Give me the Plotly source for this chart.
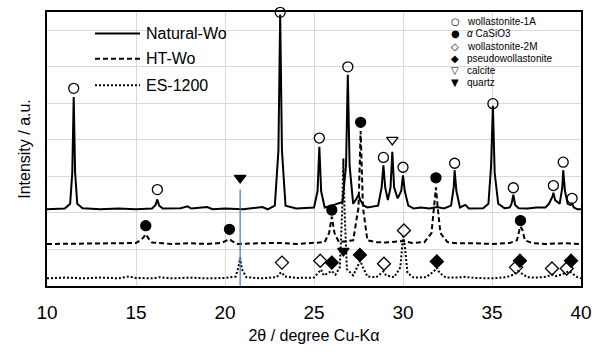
import plotly.graph_objects as go

# ---------------- data ----------------
tt_natural = [10.0, 10.5, 11.0, 11.3, 11.42, 11.5, 11.58, 11.7, 12.0, 13.0, 14.0, 15.0, 15.9, 16.1, 16.2, 16.3, 16.5,
              17.5, 17.9, 18.1, 19.0, 19.3, 20.0, 21.0, 22.1, 22.4, 22.8, 23.0, 23.1, 23.2, 23.4, 24.0, 25.0, 25.2,
              25.3, 25.4, 25.6, 26.0, 26.6, 26.8, 26.9, 27.0, 27.2, 27.4, 27.5, 27.6, 27.8, 28.0, 28.6, 28.8, 28.9,
              29.0, 29.15, 29.3, 29.4, 29.5, 29.7, 29.9, 30.0, 30.1, 30.3, 30.6, 31.0, 31.5, 31.9, 32.3, 32.7, 32.85,
              32.9, 33.0, 33.2, 33.5, 33.7, 34.5, 34.8, 34.95, 35.05, 35.15, 35.35, 35.7, 36.0, 36.1, 36.2, 36.3,
              36.5, 37.0, 37.5, 38.0, 38.2, 38.4, 38.45, 38.55, 38.8, 38.95, 39.0, 39.1, 39.25, 39.4, 39.5, 39.6,
              39.8, 40.0]
int_natural = [0.0, 0.0, 0.02, 0.15, 1.0, 3.07, 1.0, 0.15, 0.03, 0.0, 0.02, 0.0, 0.02, 0.12, 0.27, 0.1, 0.02,
               0.03, 0.08, 0.02, 0.06, 0.0, 0.02, 0.0, 0.06, 0.0, 0.1, 1.6, 5.33, 1.6, 0.1, 0.02, 0.05, 0.5,
               1.71, 0.5, 0.05, 0.1, 0.2, 1.2, 3.68, 1.2, 0.15, 0.3, 0.4, 0.25, 0.1, 0.05, 0.1, 0.6, 1.2,
               0.6, 0.25, 0.6, 1.57, 0.6, 0.3, 0.5, 0.93, 0.5, 0.1, 0.02, 0.05, 0.02, 0.06, 0.02, 0.1, 0.6,
               1.07, 0.5, 0.05, 0.12, 0.02, 0.03, 0.15, 1.2, 2.83, 1.0, 0.15, 0.03, 0.05, 0.15, 0.4, 0.12,
               0.03, 0.02, 0.05, 0.05, 0.15, 0.35, 0.45, 0.25, 0.15, 0.6, 1.07, 0.5, 0.15, 0.12, 0.15, 0.05,
               0.0, 0.0]

tt_ht = [10.0, 12.0, 14.0, 15.0, 15.3, 15.45, 15.55, 15.7, 15.9, 16.5, 17.0, 18.0, 19.0, 19.8, 20.1, 20.25, 20.4,
         20.7, 22.0, 23.0, 24.0, 25.0, 25.6, 25.85, 26.0, 26.15, 26.4, 27.2, 27.5, 27.62, 27.75, 28.0, 28.5, 29.0,
         29.5, 30.0, 30.5, 31.2, 31.6, 31.75, 31.85, 31.95, 32.1, 32.5, 33.0, 34.0, 35.0, 36.0, 36.4, 36.55, 36.6,
         36.7, 36.85, 37.3, 38.0, 39.0, 40.0]
int_ht = [0.0, 0.0, 0.02, 0.03, 0.12, 0.2, 0.27, 0.15, 0.04, 0.02, 0.0, 0.02, 0.0, 0.03, 0.1, 0.13, 0.08,
          0.0, 0.02, 0.03, 0.0, 0.03, 0.05, 0.3, 0.75, 0.3, 0.05, 0.1, 1.0, 3.09, 1.0, 0.1, 0.05, 0.04,
          0.06, 0.08, 0.03, 0.05, 0.3, 1.0, 1.55, 1.0, 0.3, 0.05, 0.02, 0.02, 0.0, 0.03, 0.1, 0.4, 0.48,
          0.4, 0.1, 0.02, 0.0, 0.02, 0.0]

tt_es = [10.0, 11.0, 12.0, 13.0, 14.0, 14.6, 15.0, 16.0, 16.3, 17.0, 18.0, 19.0, 20.0, 20.6, 20.75, 20.85, 20.95,
         21.2, 22.0, 22.9, 23.1, 23.2, 23.35, 24.0, 25.0, 25.25, 25.4, 25.55, 25.85, 26.0, 26.2, 26.45, 26.58,
         26.65, 26.72, 26.85, 27.2, 27.45, 27.6, 27.75, 28.0, 28.5, 28.8, 28.9, 29.05, 29.5, 29.85, 30.0, 30.1,
         30.25, 30.6, 31.3, 31.75, 31.9, 32.05, 32.4, 33.0, 33.5, 34.0, 35.0, 35.8, 36.2, 36.45, 36.7, 37.0, 37.5,
         38.0, 38.4, 38.6, 38.9, 39.2, 39.35, 39.6, 39.8, 40.0]
int_es = [0.0, 0.02, 0.0, 0.02, 0.0, 0.05, 0.01, 0.0, 0.03, 0.0, 0.02, 0.0, 0.01, 0.05, 0.3, 0.56, 0.25,
          0.03, 0.0, 0.03, 0.14, 0.16, 0.05, 0.01, 0.02, 0.15, 0.24, 0.08, 0.15, 0.2, 0.1, 0.3, 1.8,
          3.28, 1.8, 0.25, 0.08, 0.35, 0.48, 0.3, 0.05, 0.03, 0.15, 0.19, 0.08, 0.03, 0.3, 1.15, 0.9,
          0.15, 0.02, 0.03, 0.2, 0.29, 0.15, 0.02, 0.02, 0.04, 0.01, 0.0, 0.03, 0.1, 0.2, 0.12, 0.03, 0.02,
          0.04, 0.1, 0.06, 0.1, 0.18, 0.2, 0.1, 0.03, 0.0]

# vertical offsets of the stacked patterns (axis units)
offset_natural = 2.1
offset_ht = 1.15
offset_es = 0.21

# phase markers (2theta, height in axis units)
wo1a_x = [11.5, 16.2, 23.1, 25.3, 26.9, 28.9, 30.0, 32.9, 35.05, 36.2, 38.45, 39.0, 39.5]
wo1a_y = [5.41, 2.64, 7.49, 4.05, 6.0, 3.52, 3.25, 3.36, 4.99, 2.69, 2.75, 3.39, 2.4]
acasio3_x = [15.55, 20.25, 26.0, 27.62, 31.85, 36.6]
acasio3_y = [1.65, 1.55, 2.08, 4.48, 2.96, 1.79]
wo2m_x = [23.2, 25.35, 28.93, 30.05, 36.35, 38.37, 39.2]
wo2m_y = [0.64, 0.69, 0.61, 1.52, 0.51, 0.48, 0.48]
pseudo_x = [26.0, 27.58, 31.9, 36.57, 39.44]
pseudo_y = [0.64, 0.85, 0.67, 0.69, 0.69]
calcite_x = [29.4]
calcite_y = [4.0]
quartz_x = [20.85, 26.65]
quartz_y = [2.96, 0.96]
quartz_line_x = [20.85, 20.85]
quartz_line_y = [0.0, 2.64]

series_names = ["Natural-Wo", "HT-Wo", "ES-1200"]
series_dash = ["solid", "5px,3px", "2px,2px"]
phase_names = ["wollastonite-1A", "αCaSiO3", "wollastonite-2M", "pseudowollastonite", "calcite", "quartz"]
phase_labels = ["wollastonite-1A", "<i>α</i> CaSiO3", "wollastonite-2M", "pseudowollastonite", "calcite", "quartz"]
phase_glyphs = ["○", "●", "◇", "◆", "▽", "▼"]
x_ticks = [10, 15, 20, 25, 30, 35, 40]

# ---------------- figure ----------------
FONT = "Liberation Sans, Arial, sans-serif"

fig = go.Figure()
series = [(tt_natural, int_natural, offset_natural), (tt_ht, int_ht, offset_ht), (tt_es, int_es, offset_es)]
for (sx, sy, off), nm, dsh in zip(series, series_names, series_dash):
    fig.add_trace(go.Scatter(x=sx, y=[v + off for v in sy], mode="lines", name=nm, showlegend=False,
                             line=dict(color="black", width=2, dash=dsh)))

fig.add_trace(go.Scatter(x=quartz_line_x, y=quartz_line_y, mode="lines", showlegend=False,
                         line=dict(color="#4472C4", width=1.2)))

marker_specs = [
    (wo1a_x, wo1a_y, "circle-open"),
    (acasio3_x, acasio3_y, "circle"),
    (wo2m_x, wo2m_y, "diamond-open"),
    (pseudo_x, pseudo_y, "diamond"),
    (calcite_x, calcite_y, "triangle-down-open"),
    (quartz_x, quartz_y, "triangle-down"),
]
for (mx, my, sym), nm in zip(marker_specs, phase_names):
    fig.add_trace(go.Scatter(x=mx, y=my, mode="markers", name=nm, showlegend=False, cliponaxis=False,
                             marker=dict(symbol=sym, size=10, color="black",
                                         line=dict(color="black", width=1.3))))

# legends drawn as text + sample lines (pixel layout converted to paper coords)
L, T, W, H = 47, 10, 534, 281
FW, FH = 606, 352
def px_x(p):
    return (p - L) / W
def px_y(p):
    return (T + H - p) / H

# left legend: series line styles
fig.add_shape(type="rect", xref="paper", yref="paper", x0=px_x(76), x1=px_x(244), y0=px_y(99), y1=px_y(13),
              fillcolor="white", line=dict(width=0), layer="between")
for nm, dsh, r in zip(series_names, series_dash, [32, 58, 85]):
    fig.add_shape(type="line", xref="paper", yref="paper", x0=px_x(95), x1=px_x(140), y0=px_y(r), y1=px_y(r),
                  line=dict(color="black", width=2, dash=dsh))
    fig.add_annotation(x=px_x(144), y=px_y(r), xref="paper", yref="paper", text=nm, showarrow=False,
                       xanchor="left", yanchor="middle", font=dict(family=FONT, size=16, color="black"))

# right legend: phase symbols
fig.add_shape(type="rect", xref="paper", yref="paper", x0=px_x(445), x1=px_x(578), y0=px_y(94), y1=px_y(12),
              fillcolor="white", line=dict(width=0), layer="between")
rows = [20, 32.5, 45, 57.5, 70, 82.5]
for g, lab, r in zip(phase_glyphs, phase_labels, rows):
    fig.add_annotation(x=px_x(455), y=px_y(r), xref="paper", yref="paper", text=g, showarrow=False,
                       xanchor="center", yanchor="middle", font=dict(family="DejaVu Sans", size=10, color="black"))
    fig.add_annotation(x=px_x(465), y=px_y(r), xref="paper", yref="paper", text=lab, showarrow=False,
                       xanchor="left", yanchor="middle", font=dict(family=FONT, size=10, color="black"))

fig.update_layout(
    width=FW, height=FH,
    margin=dict(l=L, r=FW - L - W, t=T, b=FH - T - H),
    paper_bgcolor="white", plot_bgcolor="white",
    font=dict(family=FONT, color="black"),
    showlegend=False,
    xaxis=dict(range=[10, 40], tickvals=x_ticks, showgrid=True, gridcolor="#d9d9d9", gridwidth=1,
               showline=True, linecolor="black", linewidth=1.5, mirror=True, ticks="", zeroline=False,
               tickfont=dict(family=FONT, size=19, color="black"), ticklabelstandoff=8,
               title=dict(text="2θ / degree Cu-Kα", font=dict(family=FONT, size=16, color="black"), standoff=8)),
    yaxis=dict(range=[0, 7.5], dtick=1, showgrid=True, gridcolor="#d9d9d9", gridwidth=1,
               showline=True, linecolor="black", linewidth=1.5, mirror=True, ticks="", zeroline=False,
               showticklabels=False,
               title=dict(text="Intensity / a.u.", font=dict(family=FONT, size=16, color="black"), standoff=11)),
)

fig.write_html("out.html", config={"displayModeBar": False},
               post_script="document.body.style.margin='0';")
